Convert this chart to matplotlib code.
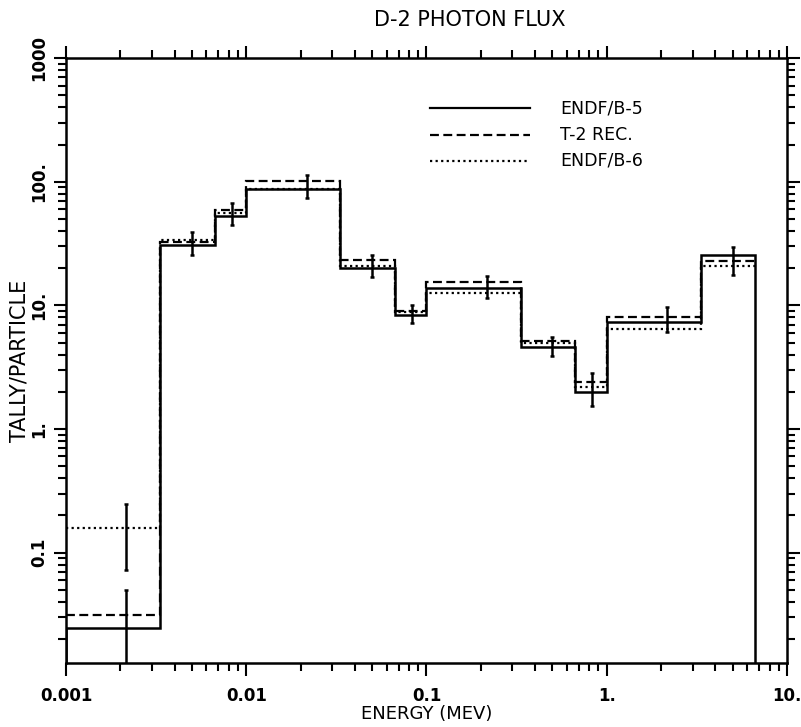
import numpy as np
import matplotlib.pyplot as plt
from matplotlib.ticker import FixedLocator, FixedFormatter, LogLocator, NullFormatter

# bin edges (MeV) and tallies
edges = [0.001, 0.00333, 0.00667, 0.01, 0.0333, 0.0667, 0.1, 0.333, 0.667, 1.0, 3.33, 6.67]
endf_b5 = [0.0248, 31.0, 52.9, 87.0, 20.0, 8.4, 13.9, 4.65, 2.0, 7.4, 25.6]
t2_rec = [0.0315, 32.5, 59.0, 102.0, 23.3, 9.0, 15.4, 5.2, 2.4, 8.0, 23.0]
endf_b6 = [0.159, 33.5, 56.0, 88.0, 20.8, 8.8, 12.7, 5.0, 2.2, 6.4, 20.8]

# error bar ends, one bar per bin
err_hi = [0.050, 39.5, 67.0, 113.0, 25.6, 10.1, 17.3, 5.6, 2.86, 9.7, 29.5]
err_lo = [0.005, 25.6, 44.7, 74.0, 17.1, 7.2, 11.5, 3.9, 1.54, 6.1, 17.6]
# extra bar on the first bin (ENDF/B-6)
first_hi = 0.249
first_lo = 0.073

xticks = [0.001, 0.01, 0.1, 1.0, 10.0]
xticklabels = ['0.001', '0.01', '0.1', '1.', '10.']
yticks = [0.1, 1.0, 10.0, 100.0, 1000.0]
yticklabels = ['0.1', '1.', '10.', '100.', '1000']

plt.rcParams['font.family'] = ['DejaVu Sans']

fig = plt.figure(figsize=(8.01, 7.27), dpi=100)
ax = fig.add_axes([0.0824, 0.088, 0.9001, 0.832])

edges = np.array(edges)
ax.stairs(endf_b5, edges, baseline=1e-4, color='black', lw=1.8)
ax.stairs(t2_rec, edges, baseline=None, color='black', lw=1.6, linestyle=(0, (4, 2)))
ax.stairs(endf_b6, edges, baseline=None, color='black', lw=1.6, linestyle=(0, (1, 1.5)))

xmid = (edges[:-1] + edges[1:]) / 2
hi = np.array(err_hi)
lo = np.array(err_lo)
mid = np.sqrt(hi * lo)
ax.errorbar(xmid, mid, yerr=[mid - lo, hi - mid], fmt='none', ecolor='black',
            elinewidth=1.8, capsize=1.5, capthick=1.8)
m1 = np.sqrt(first_hi * first_lo)
ax.errorbar([xmid[0]], [m1], yerr=[[m1 - first_lo], [first_hi - m1]], fmt='none',
            ecolor='black', elinewidth=1.8, capsize=1.5, capthick=1.8)

ax.set_xscale('log')
ax.set_yscale('log')
ax.set_xlim(0.001, 10.0)
ax.set_ylim(0.0128, 1000.0)

ax.xaxis.set_major_locator(FixedLocator(xticks))
ax.xaxis.set_major_formatter(FixedFormatter(xticklabels))
ax.yaxis.set_major_locator(FixedLocator(yticks))
ax.yaxis.set_major_formatter(FixedFormatter(yticklabels))
ax.xaxis.set_minor_locator(LogLocator(base=10, subs=np.arange(2, 10), numticks=20))
ax.yaxis.set_minor_locator(LogLocator(base=10, subs=np.arange(2, 10), numticks=20))
ax.xaxis.set_minor_formatter(NullFormatter())
ax.yaxis.set_minor_formatter(NullFormatter())

ax.tick_params(which='both', direction='out', top=True, right=True, width=1.5)
ax.tick_params(which='major', length=9)
ax.tick_params(which='minor', length=6)
ax.tick_params(axis='x', labelsize=12, pad=8)
ax.tick_params(axis='y', labelsize=12, pad=4)
for lab in ax.get_xticklabels() + ax.get_yticklabels():
    lab.set_fontweight('bold')
for lab in ax.get_yticklabels():
    lab.set_rotation(90)
    lab.set_va('center')
for s in ax.spines.values():
    s.set_linewidth(1.8)

ax.set_xlabel('ENERGY (MEV)', fontsize=13, labelpad=0)
ax.set_ylabel('TALLY/PARTICLE', fontsize=15)
ax.yaxis.set_label_coords(-0.05, 0.5)
fig.text(0.587, 0.972, 'D-2 PHOTON FLUX', fontsize=15, ha='center', va='center')

# legend drawn by hand
leg_y = [0.917, 0.873, 0.830]
leg_txt = ['ENDF/B-5', 'T-2 REC.', 'ENDF/B-6']
leg_ls = ['-', (0, (4, 2)), (0, (1, 1.5))]
for yy, tt, ls in zip(leg_y, leg_txt, leg_ls):
    ax.plot([0.505, 0.644], [yy, yy], transform=ax.transAxes, color='black',
            lw=1.6, linestyle=ls)
    ax.text(0.685, yy, tt, transform=ax.transAxes, fontsize=12.5, va='center')

fig.savefig('out.png', dpi=100)
